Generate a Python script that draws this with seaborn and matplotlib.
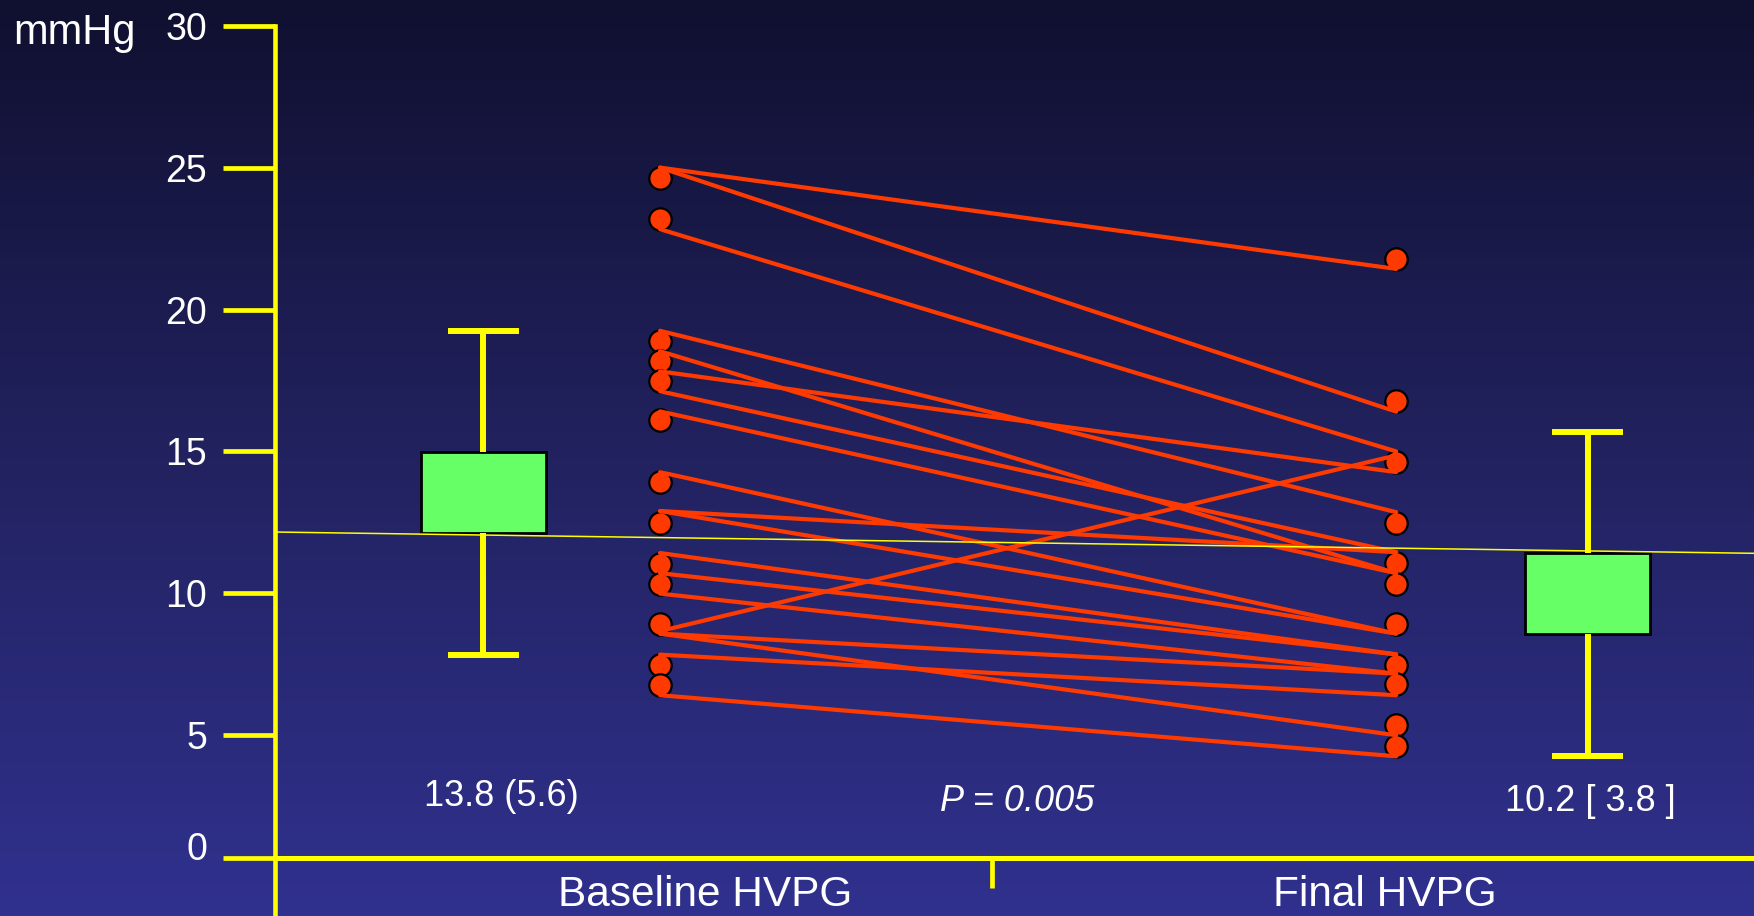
import numpy as np
import pandas as pd
import matplotlib
matplotlib.use("Agg")
import matplotlib.pyplot as plt
import seaborn as sns
from matplotlib import transforms
from matplotlib.colors import LinearSegmentedColormap

sns.set_style("white")
plt.rcParams["font.family"] = ["Liberation Sans", "DejaVu Sans"]

# ---- data -------------------------------------------------------------
categories = ["Baseline HVPG", "Final HVPG"]

# individual patient markers (mmHg)
baseline_points = [24.63, 23.18, 18.90, 18.20, 17.49, 16.09, 13.92,
                   12.47, 11.05, 10.34, 8.91, 7.47, 6.76]
final_points = [21.78, 16.77, 14.62, 12.47, 11.07, 10.34, 8.91,
                7.47, 6.79, 5.36, 4.56]

# paired baseline -> final measurements (one line per patient)
pair_baseline = [25.00, 25.00, 22.83, 19.25, 18.53, 17.82, 17.12, 16.41,
                 14.27, 12.90, 12.90, 11.42, 10.71, 9.99, 8.67, 8.58,
                 8.58, 7.84, 6.41]
pair_final = [21.43, 16.40, 15.00, 12.86, 10.71, 14.27, 11.45, 10.71,
              8.58, 8.58, 11.45, 7.85, 7.85, 7.17, 14.86, 7.17,
              5.00, 6.41, 4.14]

# summary boxes
box_q1 = [12.12, 8.56]
box_q3 = [14.97, 11.41]
whisker_low = [7.84, 4.14]
whisker_high = [19.26, 15.70]
summary_labels = ["13.8 (5.6)", "10.2 [ 3.8 ]"]
p_label = "P = 0.005"

# thin reference line across the panel (start, end)
reference_line = [12.16, 11.41]

y_ticks = [0, 5, 10, 15, 20, 25, 30]
y_unit = "mmHg"

# ---- layout -------------------------------------------------------------
CAT_POS = [0.0, 1.0]
BOX_POS = [-0.24, 1.26]
SUMMARY_POS = [-0.216, 1.264]
LABEL_POS = [0.061, 0.985]
P_POS = 0.485
MID_TICK = 0.451
XLIM = (-0.523, 1.486)
YLIM = (-2.38, 30)

YELLOW = "#ffff00"
RED = "#ff3a00"
GREEN = "#66ff66"

# the 0-5 band of the value axis is drawn compressed
K = 0.863


def forward(v):
    v = np.asarray(v, dtype=float)
    return np.where(v < 5, 5 - (5 - v) * K, v)


def inverse(u):
    u = np.asarray(u, dtype=float)
    return np.where(u < 5, 5 - (5 - u) / K, u)


fig = plt.figure(figsize=(17.54, 9.16), dpi=100)

# gradient background
bg = fig.add_axes([0, 0, 1, 1], zorder=0)
cmap = LinearSegmentedColormap.from_list("bg", ["#30318e", "#222260", "#101030"])
grad = np.linspace(0, 1, 256).reshape(-1, 1)
bg.imshow(grad, aspect="auto", cmap=cmap, extent=[0, 1, 0, 1], origin="lower")
bg.set_axis_off()

ax = fig.add_axes([275 / 1754, 0, 1 - 275 / 1754, 1 - 25.7 / 916], zorder=1)
ax.patch.set_alpha(0)
ax.set_yscale("function", functions=(forward, inverse))

# paired lines
pairs = pd.DataFrame({
    "patient": np.tile(np.arange(len(pair_baseline)), 2),
    "pos": np.repeat(CAT_POS, len(pair_baseline)),
    "value": pair_baseline + pair_final,
})
points = pd.DataFrame({
    "pos": [CAT_POS[0]] * len(baseline_points) + [CAT_POS[1]] * len(final_points),
    "value": baseline_points + final_points,
})

sns.scatterplot(data=points, x="pos", y="value", ax=ax, s=260, color=RED,
                edgecolor="black", linewidth=1.6, zorder=3, legend=False)
sns.lineplot(data=pairs, x="pos", y="value", units="patient", estimator=None,
             ax=ax, color=RED, linewidth=3.0, zorder=4, legend=False)

# summary boxes
stats = [dict(q1=q1, q3=q3, med=q1, whislo=lo, whishi=hi, fliers=[])
         for q1, q3, lo, hi in zip(box_q1, box_q3, whisker_low, whisker_high)]
ax.bxp(stats, positions=BOX_POS, widths=0.17, capwidths=0.097,
       patch_artist=True, showfliers=False, manage_ticks=False,
       boxprops=dict(facecolor=GREEN, edgecolor="black", linewidth=2.0),
       whiskerprops=dict(color=YELLOW, linewidth=4.3, solid_capstyle="butt"),
       capprops=dict(color=YELLOW, linewidth=4.3, solid_capstyle="butt"),
       medianprops=dict(visible=False), zorder=5)

# thin reference line
ax.plot(XLIM, reference_line, color=YELLOW, linewidth=1.1, zorder=6)

ax.set_xlim(*XLIM)
ax.set_ylim(*YLIM)
ax.set_xlabel("")
ax.set_ylabel("")

# axes styling
for side in ("top", "right"):
    ax.spines[side].set_visible(False)
ax.spines["left"].set_color(YELLOW)
ax.spines["left"].set_linewidth(3.3)
ax.spines["bottom"].set_position(("data", 0))
ax.spines["bottom"].set_color(YELLOW)
ax.spines["bottom"].set_linewidth(3.6)
ax.spines["bottom"].set_zorder(2)

ax.set_yticks(y_ticks)
ax.set_yticklabels([str(t) for t in y_ticks])
ax.tick_params(axis="y", left=True, direction="out", length=37.5, width=3.4,
               color=YELLOW, labelcolor="white", labelsize=27, pad=11.5)
ax.set_xticks([MID_TICK])
ax.tick_params(axis="x", bottom=True, direction="out", length=21.6, width=3.4,
               color=YELLOW, labelbottom=False)
ax.grid(False)

# lift the "0" label slightly above its tick
for lab in ax.get_yticklabels():
    if lab.get_text() == "0":
        lab.set_transform(lab.get_transform() +
                          transforms.ScaledTranslation(0, 12 / 100, fig.dpi_scale_trans))

xt = ax.get_xaxis_transform()
for x, txt in zip(LABEL_POS, categories):
    ax.text(x, 0.0236, txt, transform=xt, ha="center", va="center",
            color="white", fontsize=30.5)
ax.text(SUMMARY_POS[0], 0.1337, summary_labels[0], transform=xt,
        ha="center", va="center", color="white", fontsize=26)
ax.text(SUMMARY_POS[1], 0.129, summary_labels[1], transform=xt,
        ha="center", va="center", color="white", fontsize=26)
ax.text(P_POS, 0.129, p_label, transform=xt, ha="center", va="center",
        color="white", fontsize=26, style="italic")

fig.text(13 / 1754, 1 - 43.8 / 916, y_unit, ha="left", va="baseline",
         color="white", fontsize=30)

fig.savefig("out.png", dpi=100)
